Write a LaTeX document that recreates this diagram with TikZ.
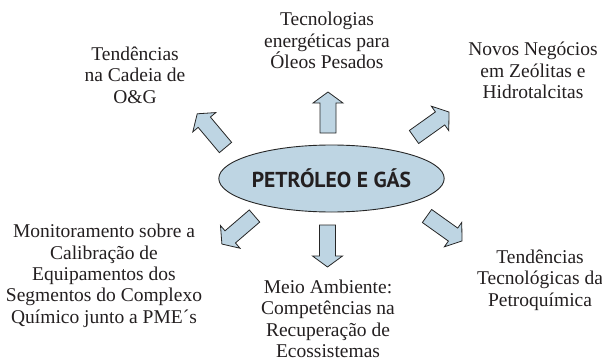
\documentclass[tikz,border=0pt]{standalone}
\usepackage{fontspec}
\setmainfont{Liberation Serif}
\newfontfamily\labelfont{Liberation Serif}
\newfontfamily\hubfont{PT Sans}
\usetikzlibrary{shapes.geometric}
\definecolor{arrowfill}{RGB}{190,213,227}
\definecolor{txt}{RGB}{35,31,32}
\tikzset{
  lbl/.style={font=\labelfont\fontsize{19.5}{21.3}\selectfont, text=txt, align=center, inner sep=0pt, anchor=base},
  blockarrow/.style={fill=arrowfill, draw=black!85, line width=0.8pt, line join=miter},
  hub/.style={ellipse, fill=arrowfill, draw=black!85, line width=0.9pt, minimum width=219pt, minimum height=67pt, inner sep=0pt,
    font=\hubfont\bfseries\fontsize{21.6}{24}\selectfont, text=txt}
}
\newcommand\bigarrow[3]{%
  \begin{scope}[shift={(#1)},rotate=#2]
    \draw[blockarrow] (0,-8) -- ({#3-11},-8) -- ({#3-11},-15) -- (#3,0) -- ({#3-11},15) -- ({#3-11},8) -- (0,8) -- cycle;
  \end{scope}}
\begin{document}
\begin{tikzpicture}[x=1pt,y=-1pt]
  \useasboundingbox (0,0) rectangle (602,361);
  \node[hub] (hub) at (331.5,178.5) {PETRÓLEO E GÁS};
  \bigarrow{225.5,147.5}{130}{44}
  \bigarrow{328,133}{90}{41}
  \bigarrow{414,137}{35.5}{43}
  \bigarrow{254.5,216}{220.7}{43}
  \bigarrow{327.5,225}{270}{42}
  \bigarrow{427,216}{-35.5}{43}
  \node[lbl] (t1) at (135,103) {Tendências\\na Cadeia de\\O\&G};
  \node[lbl] (t2) at (327,68.3) {Tecnologias\\energéticas para\\Óleos Pesados};
  \node[lbl] (t3) at (533,98.3) {Novos Negócios\\em Zeólitas e\\Hidrotalcitas};
  \node[lbl] (t4) at (104,323) {Monitoramento sobre a\\Calibração de\\Equipamentos dos\\Segmentos do Complexo\\Químico junto a PME´s};
  \node[lbl] (t5) at (328,357.5) {Meio Ambiente:\\Competências na\\Recuperação de\\Ecossistemas};
  \node[lbl] (t6) at (540,306) {Tendências\\Tecnológicas da\\Petroquímica};
\end{tikzpicture}
\end{document}
